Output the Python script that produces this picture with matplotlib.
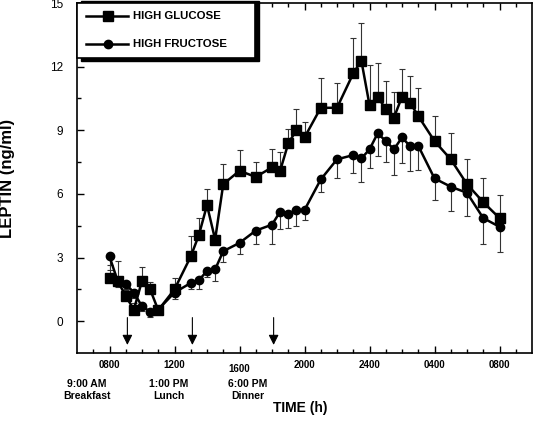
import numpy as np
import matplotlib
matplotlib.use("Agg")
from matplotlib import pyplot as plt
from matplotlib.patches import Rectangle
from matplotlib.lines import Line2D

plt.rcParams['font.family'] = ['Liberation Sans', 'DejaVu Sans']

# sampling times (hours from midnight of day 1)
hours = [8, 8.5, 9, 9.5, 10, 10.5, 11, 12, 13, 13.5, 14, 14.5, 15, 16, 17, 18,
         18.5, 19, 19.5, 20, 21, 22, 23, 23.5, 24, 24.5, 25, 25.5, 26, 26.5,
         27, 28, 29, 30, 31, 32]

glucose = [2.05, 1.9, 1.18, 0.55, 1.9, 1.5, 0.52, 1.5, 3.05, 4.06, 5.47, 3.85,
           6.46, 7.09, 6.8, 7.25, 7.09, 8.38, 9.0, 8.66, 10.06, 10.06, 11.68,
           12.28, 10.19, 10.58, 10.0, 9.59, 10.58, 10.3, 9.67, 8.49, 7.63,
           6.46, 5.61, 4.86]
glucose_err = [0.6, 0.95, 0.3, 0.3, 0.67, 0.35, 0.2, 0.55, 0.95, 0.8, 0.75,
               0.2, 0.95, 1.0, 0.7, 0.85, 0.9, 0.66, 1.0, 0.74, 1.4, 1.15,
               1.65, 1.8, 1.9, 1.6, 1.3, 1.2, 1.3, 1.25, 1.3, 1.2, 1.25, 1.2,
               1.15, 1.1]

fructose = [3.05, 1.9, 1.75, 1.35, 0.7, 0.45, 0.55, 1.35, 1.8, 1.93, 2.37,
            2.44, 3.3, 3.69, 4.27, 4.55, 5.16, 5.07, 5.24, 5.24, 6.68, 7.63,
            7.83, 7.67, 8.1, 8.85, 8.5, 8.1, 8.66, 8.25, 8.27, 6.73, 6.34,
            6.05, 4.86, 4.45]
fructose_err = [0.65, 0.3, 0.25, 0.25, 0.2, 0.25, 0.2, 0.3, 0.3, 0.4, 0.3,
                0.55, 0.5, 0.5, 0.63, 0.9, 0.8, 0.7, 0.75, 0.48, 0.6, 0.9,
                0.85, 1.1, 0.9, 1.05, 1.0, 1.2, 1.2, 1.15, 1.15, 1.0, 1.15,
                1.1, 1.2, 1.18]

tick_hours = [8, 12, 16, 20, 24, 28, 32]
tick_names = ['0800', '1200', '1600', '2000', '2400', '0400', '0800']

meal_times = [9.1, 13.1, 18.1]
meal_names = ['9:00 AM\nBreakfast', '1:00 PM\nLunch', '6:00 PM\nDinner']
meal_label_x = [6.65, 11.68, 16.5]

fig = plt.figure(figsize=(5.37, 4.24), dpi=100)
ax = fig.add_axes([77 / 537, 1 - 353 / 424, 455 / 537, 350 / 424])

zeros = np.zeros(len(hours))

ax.errorbar(hours, glucose, yerr=[zeros, glucose_err], fmt='none',
            ecolor='#333333', elinewidth=0.8, capsize=2, capthick=0.8, zorder=2)
ax.errorbar(hours, fructose, yerr=[fructose_err, zeros], fmt='none',
            ecolor='#333333', elinewidth=0.8, capsize=2, capthick=0.8, zorder=2)

ax.plot(hours, glucose, color='black', lw=1.8, marker='s', ms=6.5, zorder=3)
ax.plot(hours, fructose, color='black', lw=1.8, marker='o', ms=6, zorder=3)

# meal arrows
for t in meal_times:
    ax.annotate('', xy=(t, -1.25), xytext=(t, 0.3),
                arrowprops=dict(arrowstyle='-|>', color='black', lw=0.8,
                                mutation_scale=15))

ax.set_xlim(6, 34)
ax.set_ylim(-1.5, 15)
ax.set_xticks(tick_hours)
ax.set_xticklabels(tick_names, fontsize=7, fontweight='bold')
ax.set_xticks(np.arange(7, 34, 1), minor=True)
ax.set_yticks([0, 3, 6, 9, 12, 15])
ax.set_yticks(np.arange(1.5, 15, 3), minor=True)
ax.tick_params(axis='y', labelsize=8.5, pad=10)
ax.tick_params(which='both', direction='in', top=True, right=False)
ax.tick_params(which='major', length=5, width=1)
ax.tick_params(which='minor', length=3, width=1)
ax.tick_params(axis='x', pad=5)
for s in ax.spines.values():
    s.set_linewidth(1.2)

# "1600" sits a little lower in the original
ax.xaxis.get_major_ticks()[2].set_pad(8)

# legend box with shadow
ax.add_patch(Rectangle((0.008, 0.835), 0.391, 0.17, transform=ax.transAxes,
                       facecolor='black', edgecolor='black', zorder=5,
                       clip_on=False))
ax.add_patch(Rectangle((0.0, 0.843), 0.391, 0.157, transform=ax.transAxes,
                       facecolor='white', edgecolor='black', lw=1.2, zorder=6,
                       clip_on=False))
legend_rows = [(0.963, 's', 6.5, 'HIGH GLUCOSE'), (0.883, 'o', 6, 'HIGH FRUCTOSE')]
for y, m, ms, name in legend_rows:
    ax.add_line(Line2D([0.02, 0.112], [y, y], transform=ax.transAxes,
                       color='black', lw=1.8, zorder=7))
    ax.add_line(Line2D([0.068], [y], transform=ax.transAxes, color='black',
                       marker=m, ms=ms, zorder=7))
    ax.text(0.123, y, name, transform=ax.transAxes, fontsize=8.2,
            fontweight='bold', va='center', ha='left', zorder=7)

# meal labels under the axis
for lx, name in zip(meal_label_x, meal_names):
    px = 109 + (lx - 8) * 16.3
    fig.text(px / 537, 1 - 390 / 424, name, ha='center', va='center',
             fontsize=7.5, fontweight='bold', linespacing=1.3)

fig.text(300 / 537, 1 - 408 / 424, 'TIME (h)', ha='center', va='center',
         fontsize=10, fontweight='bold')
fig.text(8 / 537, 1 - 178 / 424, 'LEPTIN (ng/ml)', ha='center', va='center',
         rotation=90, fontsize=12, fontweight='bold')

plt.savefig('out.png', dpi=100)
